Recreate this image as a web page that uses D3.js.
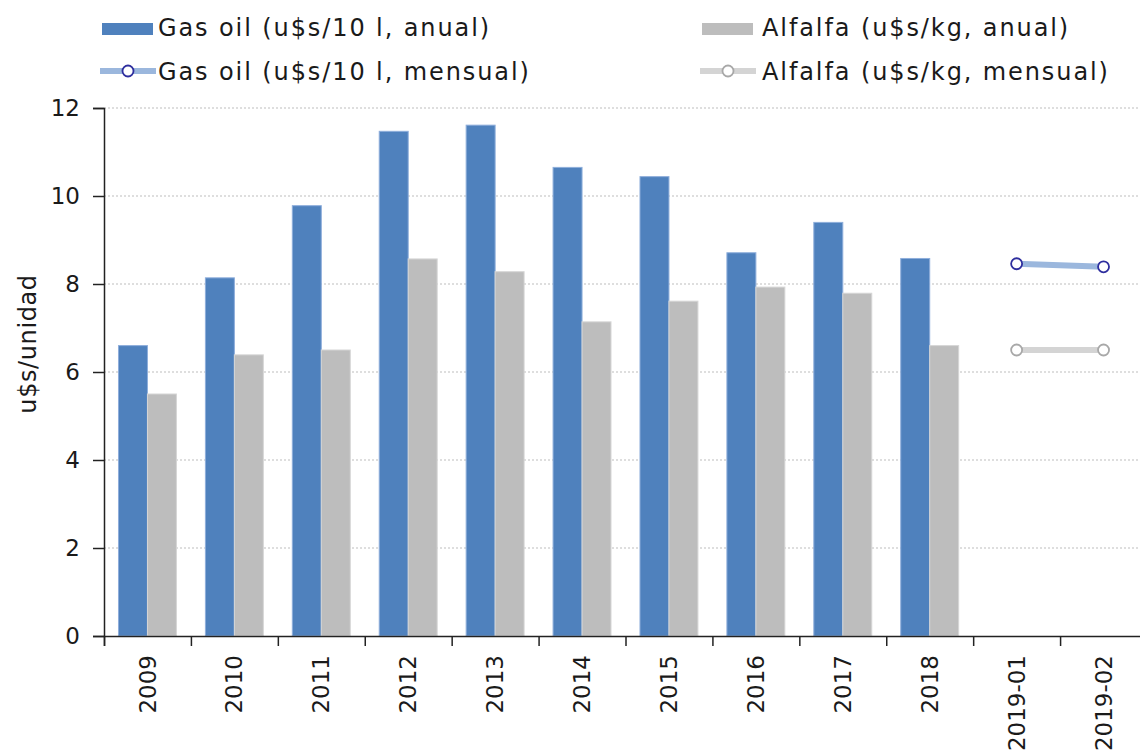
<!DOCTYPE html>
<html>
<head>
<meta charset="utf-8">
<script src="https://cdn.jsdelivr.net/npm/d3@7"></script>
<style>
  body { margin: 0; background: #fff; }
  svg text { font-family: "DejaVu Sans", sans-serif; fill: #1a1a1a; }
</style>
</head>
<body>
<div class="main"></div>
<script>
const w = 1140, h = 752;

// data
const categories = ['2009', '2010', '2011', '2012', '2013', '2014', '2015', '2016', '2017', '2018', '2019-01', '2019-02'];
const gasAnual = [6.6, 8.14, 9.78, 11.47, 11.61, 10.65, 10.44, 8.71, 9.4, 8.58, null, null];
const alfalfaAnual = [5.5, 6.39, 6.5, 8.57, 8.28, 7.14, 7.61, 7.93, 7.79, 6.6, null, null];
const gasMensual = [null, null, null, null, null, null, null, null, null, null, 8.46, 8.39];
const alfalfaMensual = [null, null, null, null, null, null, null, null, null, null, 6.5, 6.5];
const yTicks = [0, 2, 4, 6, 8, 10, 12];

const plotLeft = 104, plotRight = 1147, plotTop = 108, plotBottom = 636;

const svg = d3.select('.main')
            .append('svg')
            .attr('width', w)
            .attr('height', h)

const x0 = d3.scaleBand()
            .domain(categories)
            .range([plotLeft, plotRight])

const x1 = d3.scaleBand()
            .domain(['gas', 'alfalfa'])
            .range([0, x0.bandwidth()])
            .paddingOuter(0.5)

const y = d3.scaleLinear()
            .domain([0, 12])
            .range([plotBottom, plotTop])

//gridlines
svg.append('g')
    .selectAll('line')
    .data(yTicks.filter(t => t > 0))
    .enter()
    .append('line')
    .attr('x1', plotLeft)
    .attr('x2', plotRight)
    .attr('y1', d => y(d))
    .attr('y2', d => y(d))
    .attr('stroke', '#bdbdbd')
    .attr('stroke-width', 1)
    .attr('stroke-dasharray', '2,2')

//bars
const bars = [
    { key: 'gas', values: gasAnual, fill: '#4f81bd', stroke: '#8eaedb' },
    { key: 'alfalfa', values: alfalfaAnual, fill: '#bdbdbd', stroke: '#d6d6d6' }
]
bars.forEach(s => {
    svg.append('g')
        .selectAll('rect')
        .data(categories.map((c, i) => ({ c, v: s.values[i] })).filter(d => d.v != null))
        .enter()
        .append('rect')
        .attr('x', d => x0(d.c) + x1(s.key))
        .attr('y', d => y(d.v))
        .attr('width', x1.bandwidth())
        .attr('height', d => plotBottom - y(d.v))
        .attr('fill', s.fill)
        .attr('stroke', s.stroke)
        .attr('stroke-width', 1)
})

//monthly lines
const lines = [
    { values: gasMensual, line: '#9bb7dd', dot: '#2e2e9e' },
    { values: alfalfaMensual, line: '#d4d4d4', dot: '#a8a8a8' }
]
const lineGen = d3.line()
                .defined(d => d.v != null)
                .x(d => x0(d.c) + x0.bandwidth() / 2)
                .y(d => y(d.v))
lines.forEach(s => {
    const pts = categories.map((c, i) => ({ c, v: s.values[i] }))
    svg.append('path')
        .datum(pts)
        .attr('d', lineGen)
        .attr('fill', 'none')
        .attr('stroke', s.line)
        .attr('stroke-width', 6)
    svg.append('g')
        .selectAll('circle')
        .data(pts.filter(d => d.v != null))
        .enter()
        .append('circle')
        .attr('cx', d => x0(d.c) + x0.bandwidth() / 2)
        .attr('cy', d => y(d.v))
        .attr('r', 5.5)
        .attr('fill', '#fff')
        .attr('stroke', s.dot)
        .attr('stroke-width', 1.8)
})

//axes
const yAxis = svg.append('g')
            .attr('transform', `translate(${plotLeft},0)`)
            .call(d3.axisLeft(y).tickValues(yTicks).tickSize(11).tickPadding(13))
yAxis.select('.domain').attr('stroke', '#222').attr('stroke-width', 1.5)
yAxis.selectAll('line').attr('stroke', '#222').attr('stroke-width', 1.5)
yAxis.selectAll('text').style('font-size', '23px').attr('fill', '#1a1a1a')

const xAxis = svg.append('g')
            .attr('transform', `translate(0,${plotBottom})`)
            .call(d3.axisBottom(d3.scalePoint().domain(d3.range(categories.length + 1)).range([plotLeft, plotRight])).tickSize(10).tickFormat(''))
xAxis.select('.domain').attr('stroke', '#222').attr('stroke-width', 1.5)
xAxis.selectAll('line').attr('stroke', '#222').attr('stroke-width', 1.5)

svg.append('g')
    .selectAll('text')
    .data(categories)
    .enter()
    .append('text')
    .attr('transform', d => `translate(${x0(d) + x0.bandwidth() / 2},655) rotate(-90)`)
    .attr('text-anchor', 'end')
    .attr('dy', '0.35em')
    .style('font-size', '23px')
    .text(d => d)

svg.append('text')
    .attr('transform', 'translate(28,344) rotate(-90)')
    .attr('text-anchor', 'middle')
    .attr('dy', '0.35em')
    .style('font-size', '24px')
    .style('letter-spacing', '0.6px')
    .text('u$s/unidad')

//legend
const legend = svg.append('g').attr('class', 'legend')
const legendRects = [
    { x: 102, tx: 158, fill: '#4f81bd', label: 'Gas oil (u$s/10 l, anual)' },
    { x: 702, tx: 762, fill: '#bdbdbd', label: 'Alfalfa (u$s/kg, anual)' }
]
legendRects.forEach(d => {
    legend.append('rect')
        .attr('x', d.x)
        .attr('y', 23)
        .attr('width', 51)
        .attr('height', 12)
        .attr('fill', d.fill)
    legend.append('text')
        .attr('x', d.tx)
        .attr('y', 28)
        .attr('dy', '0.35em')
        .style('font-size', '24px')
        .style('letter-spacing', '1.9px')
        .text(d.label)
})
const legendLines = [
    { x: 100, tx: 158, line: '#9bb7dd', dot: '#2e2e9e', label: 'Gas oil (u$s/10 l, mensual)' },
    { x: 700, tx: 762, line: '#d4d4d4', dot: '#a8a8a8', label: 'Alfalfa (u$s/kg, mensual)' }
]
legendLines.forEach(d => {
    legend.append('line')
        .attr('x1', d.x)
        .attr('x2', d.x + 56)
        .attr('y1', 71)
        .attr('y2', 71)
        .attr('stroke', d.line)
        .attr('stroke-width', 6)
    legend.append('circle')
        .attr('cx', d.x + 28)
        .attr('cy', 71)
        .attr('r', 5.5)
        .attr('fill', '#fff')
        .attr('stroke', d.dot)
        .attr('stroke-width', 1.8)
    legend.append('text')
        .attr('x', d.tx)
        .attr('y', 72)
        .attr('dy', '0.35em')
        .style('font-size', '24px')
        .style('letter-spacing', '1.9px')
        .text(d.label)
})
</script>
</body>
</html>
